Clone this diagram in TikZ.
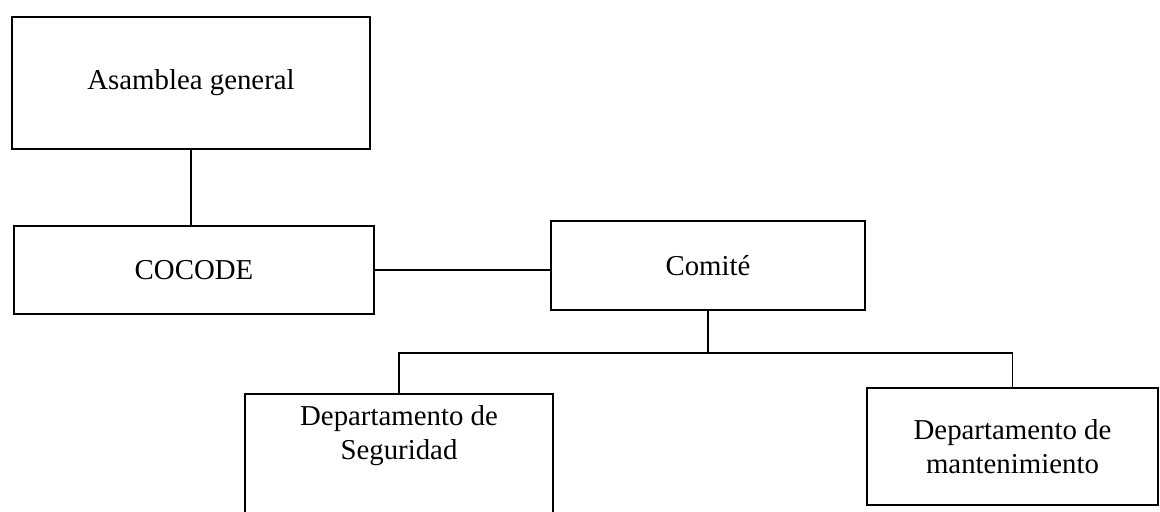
\documentclass[tikz,border=0pt]{standalone}
\usepackage{fontspec}
\setmainfont{Liberation Serif}

\begin{document}
\begin{tikzpicture}[x=0.025cm,y=-0.025cm,
        caja/.style={draw,line width=1.1pt,inner sep=0pt,align=center,font=\fontsize{20.5}{24}\selectfont},
        linea/.style={line width=1.1pt}
    ]
        \useasboundingbox (0,0) rectangle (1160,512);

        % Define the nodes
        \node[caja,minimum width=8.95cm,minimum height=3.3cm] (asamblea) at (191,83) {Asamblea general};
        \node[caja,minimum width=9cm,minimum height=2.2cm] (cocode) at (194,270) {COCODE};
        \node[caja,minimum width=7.85cm,minimum height=2.225cm] (comite) at (708,265.5) {Comité};
        \node[caja,minimum width=7.7cm,anchor=north,inner ysep=0.3cm,text depth=3cm] (seguridad) at (399,393) {Departamento de\\Seguridad};
        \node[caja,minimum width=7.275cm,minimum height=2.925cm] (mantenimiento) at (1012.5,446.5) {Departamento de\\mantenimiento};

        % Draw the connectors
        \draw [linea] (asamblea.south) -- (asamblea.south |- cocode.north);
        \draw [linea] (cocode.east) -- (cocode.east -| comite.west);
        \path (comite.south) ++(0,42) coordinate (rama);
        \draw [linea] (comite.south) -- (rama);
        \draw [linea] (seguridad.north) |- (rama) -| (mantenimiento.north); % split to both departments
    \end{tikzpicture}
\end{document}
